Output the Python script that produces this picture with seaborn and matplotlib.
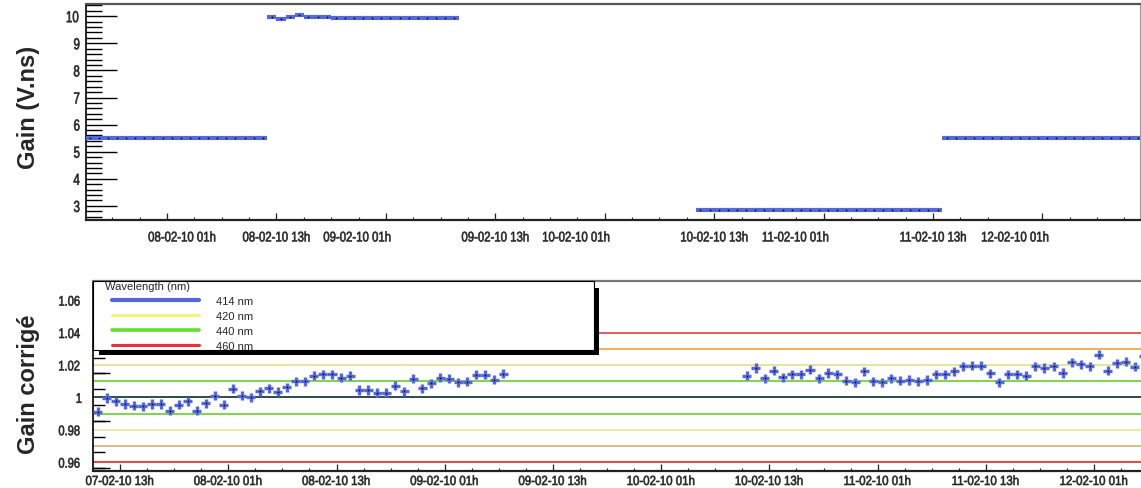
import numpy as np
import pandas as pd
import matplotlib
matplotlib.use("Agg")
import matplotlib.pyplot as plt
import seaborn as sns
from matplotlib.ticker import FixedLocator, MultipleLocator, NullFormatter
from matplotlib.patches import Rectangle
from matplotlib.lines import Line2D
from matplotlib.legend_handler import HandlerLine2D
from matplotlib.patheffects import AbstractPathEffect
from matplotlib.transforms import Affine2D

# ---------------------------------------------------------------------------
# Time base: hours since 07-02-10 00h, one measurement per hour (bin centres)
# ---------------------------------------------------------------------------

# Raw gain (V.ns), four running periods
gain_hours_a = np.arange(16.5, 36.0, 1.0)
gain_values_a = [5.49, 5.49, 5.49, 5.49, 5.49, 5.49, 5.49, 5.49, 5.49, 5.49,
                 5.49, 5.49, 5.49, 5.49, 5.49, 5.49, 5.49, 5.49, 5.49, 5.49]
gain_hours_b = np.arange(36.5, 57.0, 1.0)
gain_values_b = [9.97, 9.91, 9.97, 10.04, 9.97, 9.97, 9.97, 9.93, 9.93, 9.93,
                 9.93, 9.93, 9.93, 9.93, 9.93, 9.93, 9.93, 9.93, 9.93, 9.93, 9.93]
gain_hours_c = np.arange(83.5, 110.0, 1.0)
gain_values_c = [2.86, 2.86, 2.86, 2.86, 2.86, 2.86, 2.86, 2.86, 2.86, 2.86,
                 2.86, 2.86, 2.86, 2.86, 2.86, 2.86, 2.86, 2.86, 2.86, 2.86,
                 2.86, 2.86, 2.86, 2.86, 2.86, 2.86, 2.86]
gain_hours_d = np.arange(110.5, 132.0, 1.0)
gain_values_d = [5.49, 5.49, 5.49, 5.49, 5.49, 5.49, 5.49, 5.49, 5.49, 5.49, 5.49,
                 5.49, 5.49, 5.49, 5.49, 5.49, 5.49, 5.49, 5.49, 5.49, 5.49, 5.49]

# Corrected gain (414 nm), two periods
corr_hours_a = np.arange(10.5, 56.0, 1.0)
corr_values_a = [0.9911, 0.9996, 0.9975, 0.9959, 0.9948, 0.9944, 0.9959, 0.9959,
                 0.9918, 0.9955, 0.9975, 0.9918, 0.9963, 1.0010, 0.9955, 1.0052,
                 1.0010, 1.0000, 1.0037, 1.0056, 1.0035, 1.0062, 1.0100, 1.0098,
                 1.0133, 1.0143, 1.0143, 1.0122, 1.0133, 1.0045, 1.0045, 1.0027,
                 1.0027, 1.0071, 1.0037, 1.0116, 1.0055, 1.0088, 1.0122, 1.0116,
                 1.0092, 1.0096, 1.0139, 1.0139, 1.0108, 1.0147]
corr_hours_b = np.arange(82.5, 127.0, 1.0)
corr_values_b = [1.0133, 1.0181, 1.0117, 1.0164, 1.0123, 1.0142, 1.0142, 1.0170,
                 1.0117, 1.0150, 1.0142, 1.0101, 1.0092, 1.0160, 1.0099, 1.0092,
                 1.0119, 1.0103, 1.0107, 1.0099, 1.0107, 1.0142, 1.0142, 1.0160,
                 1.0191, 1.0195, 1.0195, 1.0148, 1.0092, 1.0142, 1.0142, 1.0133,
                 1.0191, 1.0181, 1.0191, 1.0150, 1.0216, 1.0205, 1.0191, 1.0263,
                 1.0164, 1.0209, 1.0220, 1.0189, 1.0253]
corr_error = 0.0028

# Tolerance bands drawn as horizontal reference lines
band_levels = [1.04, 1.03, 1.02, 1.01, 1.00, 0.99, 0.98, 0.97, 0.96]
band_colors = ["#e04040", "#f5a030", "#e2e08a", "#6ccc30", "#0c2c2c",
               "#6ccc30", "#e6e49a", "#d8b070", "#e02828"]

# Legend entries (wavelengths)
wl_labels = ["414 nm", "420 nm", "440 nm", "460 nm"]
wl_colors = ["#5468dc", "#f4f27a", "#66dd33", "#ee3030"]

# Axis labelling
top_label_hours = [26.65, 37.0, 45.85, 61.0, 69.85, 85.0, 93.9, 109.0, 118.0]
top_label_text = ["08-02-10 01h", "08-02-10 13h", "09-02-10 01h", "09-02-10 13h",
                  "10-02-10 01h", "10-02-10 13h", "11-02-10 01h", "11-02-10 13h",
                  "12-02-10 01h"]
bottom_label_hours = [13, 25, 37, 49, 61, 73, 85, 97, 109, 121]
bottom_label_text = ["07-02-10 13h", "08-02-10 01h", "08-02-10 13h", "09-02-10 01h",
                     "09-02-10 13h", "10-02-10 01h", "10-02-10 13h", "11-02-10 01h",
                     "11-02-10 13h", "12-02-10 01h"]
corr_label_values = [0.96, 0.98, 1.0, 1.02, 1.04, 1.06]
corr_label_text = ["0.96", "0.98", "1", "1.02", "1.04", "1.06"]

BLUE = "#5468dc"


class Condensed(AbstractPathEffect):
    """Squeeze a text path horizontally about its own centre, slightly emboldened."""

    def __init__(self, factor=0.82, stroke=0.45):
        super().__init__()
        self._factor = factor
        self._stroke = stroke

    def draw_path(self, renderer, gc, tpath, affine, rgbFace=None):
        ext = tpath.get_extents()
        cx = 0.5 * (ext.x0 + ext.x1)
        squeeze = Affine2D().translate(-cx, 0).scale(self._factor, 1).translate(cx, 0)
        gc0 = renderer.new_gc()
        gc0.copy_properties(gc)
        gc0.set_linewidth(self._stroke)
        gc0.set_joinstyle("round")
        renderer.draw_path(gc0, tpath, squeeze + affine, rgbFace)
        gc0.restore()


def condense(labels, factor, stroke=0.45):
    for lbl in labels:
        lbl.set_path_effects([Condensed(factor, stroke)])


sns.set_style("white")
plt.rcParams["font.family"] = ["Liberation Sans", "DejaVu Sans"]

raw = pd.DataFrame({
    "hour": np.concatenate([gain_hours_a, gain_hours_b, gain_hours_c, gain_hours_d]),
    "gain": np.concatenate([gain_values_a, gain_values_b, gain_values_c, gain_values_d]),
})
corr = pd.DataFrame({
    "hour": np.concatenate([corr_hours_a, corr_hours_b]),
    "gain": np.concatenate([corr_values_a, corr_values_b]),
})

W, H = 1141, 489
fig = plt.figure(figsize=(W / 100, H / 100), dpi=100)
ax1 = fig.add_axes([86 / W, 1 - 221 / H, 1054 / W, 216 / H])
ax2 = fig.add_axes([93 / W, 1 - 471.7 / H, 1048 / W, 190 / H])

# ---------------- top: raw gain ----------------
ax1.errorbar(raw["hour"], raw["gain"], xerr=0.5, fmt="none",
             ecolor=BLUE, elinewidth=3.0, zorder=3)
sns.scatterplot(data=raw, x="hour", y="gain", ax=ax1, color="black",
                s=1.5, linewidth=0, zorder=4, legend=False)
ax1.set_xlim(16.11, 131.7)
ax1.set_ylim(2.48, 10.45)
ax1.set_xlabel("")
ax1.set_ylabel("")

ax1.yaxis.set_major_locator(MultipleLocator(1))
ax1.yaxis.set_minor_locator(MultipleLocator(0.2))
ax1.tick_params(axis="y", which="both", left=True, direction="in", width=1,
                color="black")
ax1.tick_params(axis="y", which="major", length=22, pad=3.5, labelsize=11.5)
ax1.tick_params(axis="y", which="minor", length=11.5)

ax1.xaxis.set_major_locator(FixedLocator(top_label_hours))
ax1.set_xticklabels(top_label_text)
ax1.xaxis.set_minor_locator(MultipleLocator(3, offset=1))
ax1.tick_params(axis="x", which="both", bottom=True, direction="in", color="#222222")
ax1.tick_params(axis="x", which="major", length=0, pad=7.5, labelsize=10)
ax1.tick_params(axis="x", which="minor", length=2.5, width=0.8)
sec1 = ax1.secondary_xaxis("bottom")
sec1.xaxis.set_major_locator(MultipleLocator(12, offset=1))
sec1.xaxis.set_major_formatter(NullFormatter())
sec1.tick_params(axis="x", bottom=True, direction="in", length=5, width=0.9,
                 color="#222222")
for s in sec1.spines.values():
    s.set_visible(False)

ax1.spines["left"].set_color("black")
ax1.spines["left"].set_linewidth(1.2)
ax1.spines["bottom"].set_color("#222222")
ax1.spines["bottom"].set_linewidth(1.6)
ax1.spines["top"].set_color("#555555")
ax1.spines["top"].set_linewidth(1.6)
ax1.spines["right"].set_color("#999999")
ax1.spines["right"].set_linewidth(0.8)

condense(ax1.get_xticklabels(), 0.82)
condense(ax1.get_yticklabels(), 0.72)

# ---------------- bottom: corrected gain ----------------
for lvl, col in zip(band_levels, band_colors):
    ax2.axhline(lvl, color=col, linewidth=1.2, zorder=1)

ax2.errorbar(corr["hour"], corr["gain"], xerr=0.5, yerr=corr_error, fmt="none",
             ecolor=BLUE, elinewidth=2.4, zorder=3)
sns.scatterplot(data=corr, x="hour", y="gain", ax=ax2, color="black",
                s=1.5, linewidth=0, zorder=4, legend=False)
ax2.set_xlim(10.0, 126.2)
ax2.set_ylim(0.9547, 1.072)
ax2.set_xlabel("")
ax2.set_ylabel("")

# value labels, with the tick marks themselves on their own grid
ax2.yaxis.set_major_locator(FixedLocator(corr_label_values))
ax2.set_yticklabels(corr_label_text)
ax2.yaxis.set_minor_locator(MultipleLocator(0.00975, offset=0.966))
ax2.tick_params(axis="y", which="both", left=True, direction="in", width=1,
                color="black")
ax2.tick_params(axis="y", which="major", length=0, pad=7.5, labelsize=10)
ax2.tick_params(axis="y", which="minor", length=8.5)
sec2 = ax2.secondary_yaxis("left")
sec2.yaxis.set_major_locator(MultipleLocator(0.02925, offset=0.9855))
sec2.yaxis.set_major_formatter(NullFormatter())
sec2.tick_params(axis="y", left=True, direction="in", length=12, width=1,
                 color="black")
for s in sec2.spines.values():
    s.set_visible(False)

ax2.xaxis.set_major_locator(FixedLocator(bottom_label_hours))
ax2.set_xticklabels(bottom_label_text)
ax2.xaxis.set_minor_locator(MultipleLocator(3, offset=1))
ax2.tick_params(axis="x", which="both", bottom=True, direction="in", color="#222222")
ax2.tick_params(axis="x", which="major", length=5, width=0.9, pad=3.8, labelsize=9.5)
ax2.tick_params(axis="x", which="minor", length=2.5, width=0.8)

ax2.spines["left"].set_color("black")
ax2.spines["left"].set_linewidth(1.2)
ax2.spines["bottom"].set_color("#222222")
ax2.spines["bottom"].set_linewidth(1.6)
ax2.spines["top"].set_color("#777777")
ax2.spines["top"].set_linewidth(1.6)
ax2.spines["right"].set_visible(False)

condense(ax2.get_xticklabels(), 0.87)
condense(ax2.get_yticklabels(), 0.8)

# legend: shadow, white box, then the entries on top
px_x = 1.0 / 1048
px_y = 1.0 / 190
ax2.add_patch(Rectangle((6 * px_x, 1 - 74.3 * px_y), 499.5 * px_x, 67 * px_y,
                        transform=ax2.transAxes, facecolor="black",
                        edgecolor="none", zorder=5.5, clip_on=False))
ax2.add_patch(Rectangle((0, 1 - 69.3 * px_y), 501 * px_x, 69.3 * px_y,
                        transform=ax2.transAxes, facecolor="white",
                        edgecolor="black", linewidth=0.8, zorder=5.6, clip_on=False))

handles = [Line2D([], [], color=c, linewidth=lw)
           for c, lw in zip(wl_colors, [3.0, 2.2, 2.6, 2.2])]
leg = ax2.legend(handles, wl_labels, title="Wavelength (nm)", loc="upper left",
                 bbox_to_anchor=(12 * px_x, 1.0), borderaxespad=0, borderpad=0,
                 frameon=False, alignment="left",
                 labelspacing=0.45, handlelength=8.5, handletextpad=1.45,
                 handler_map={Line2D: HandlerLine2D(xpad=0.63)},
                 prop={"family": ["Liberation Sans", "DejaVu Sans"], "size": 8},
                 title_fontproperties={"family": ["Liberation Sans", "DejaVu Sans"],
                                       "size": 8})
leg.set_zorder(6)

# axis titles
fig.text(29 / W, 1 - 107.5 / H, "Gain (V.ns)", rotation=90, ha="center", va="center",
         fontsize=17, fontweight="bold", family=["Liberation Sans", "DejaVu Sans"])
fig.text(29 / W, 1 - 384 / H, "Gain corrigé", rotation=90, ha="center", va="center",
         fontsize=17, fontweight="bold", family=["Liberation Sans", "DejaVu Sans"])

fig.savefig("out.png", dpi=100)
